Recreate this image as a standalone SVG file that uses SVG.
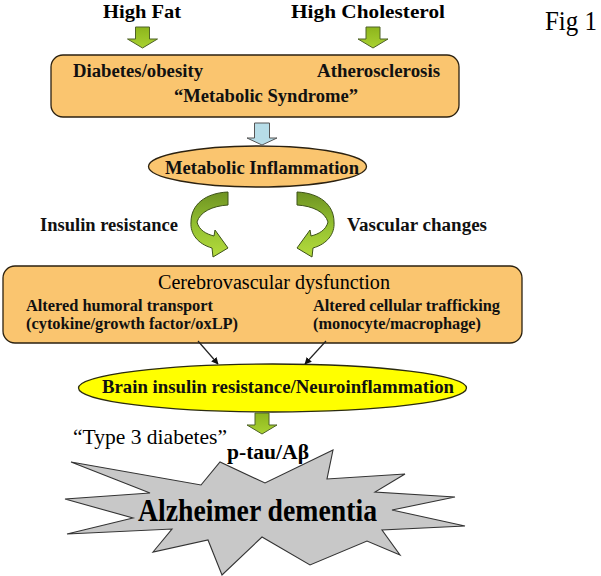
<svg xmlns="http://www.w3.org/2000/svg" width="601" height="576" viewBox="0 0 601 576">
<defs>
<style>
text{font-family:"Liberation Serif","Times New Roman",serif;fill:#000}
.b{font-weight:bold}
.m{font-weight:bold;fill:#111}
.box{fill:#FAC56F;stroke:#2b2110;stroke-width:1.3}
.garrow{fill:url(#gg);stroke:#4F6228;stroke-width:1}
.curve{fill:url(#gc);stroke:#3d5218;stroke-width:1}
.conn{stroke:#222;stroke-width:1.2;fill:none;marker-end:url(#ah)}
</style>
<linearGradient id="gg" x1="0" y1="0" x2="0" y2="1">
<stop offset="0" stop-color="#8DB51C"/><stop offset="1" stop-color="#A9D232"/>
</linearGradient>
<linearGradient id="gc" x1="0" y1="0" x2="0" y2="1">
<stop offset="0" stop-color="#6E9222"/><stop offset="0.5" stop-color="#93C030"/><stop offset="1" stop-color="#B4DB3C"/>
</linearGradient>
<marker id="ah" viewBox="0 0 10 10" refX="9" refY="5" markerWidth="7" markerHeight="7" orient="auto" markerUnits="userSpaceOnUse">
<path d="M0,0 L10,5 L0,10 Z" fill="#111"/>
</marker>
<path id="down" d="M-7,0 H7 V12 H15 L0,21 L-15,12 H-7 Z"/>
<path id="curveL" d="M228,192 L228,205 C212,206 200,212 197,222 C199,230 206,234 214,236 L215,230 L228,248 L213,257 L212,248 C198,244 190,234 191,222 C191,205 205,193 228,192 Z"/>
</defs>

<g id="fig-label"><text x="545" y="30" font-size="27" textLength="52" lengthAdjust="spacingAndGlyphs">Fig 1</text></g>

<g id="high-fat"><text class="b" x="103" y="18" font-size="19.5" textLength="78" lengthAdjust="spacingAndGlyphs">High Fat</text></g>
<g id="high-cholesterol"><text class="b" x="291" y="18" font-size="19.5" textLength="154" lengthAdjust="spacingAndGlyphs">High Cholesterol</text></g>

<g id="metabolic-syndrome">
<rect class="box" x="51" y="55" width="408" height="62" rx="12"/>
<text class="m" x="73" y="77" font-size="18.5" textLength="130" lengthAdjust="spacingAndGlyphs">Diabetes/obesity</text>
<text class="m" x="317" y="77" font-size="18.5" textLength="123" lengthAdjust="spacingAndGlyphs">Atherosclerosis</text>
<text class="m" x="174" y="102" font-size="18.5" textLength="184" lengthAdjust="spacingAndGlyphs">“Metabolic Syndrome”</text>
</g>

<g id="metabolic-inflammation">
<ellipse cx="257.5" cy="166.5" rx="109" ry="20.5" style="fill:#FAC56F;stroke:#2b2110;stroke-width:1.3"/>
<text class="m" x="165" y="174" font-size="19.5" textLength="194" lengthAdjust="spacingAndGlyphs">Metabolic Inflammation</text>
</g>

<g id="insulin-resistance-label"><text class="m" x="40" y="231" font-size="18.5" textLength="138" lengthAdjust="spacingAndGlyphs">Insulin resistance</text></g>
<g id="vascular-changes-label"><text class="m" x="347" y="231" font-size="18.5" textLength="140" lengthAdjust="spacingAndGlyphs">Vascular changes</text></g>

<g id="cerebrovascular">
<rect class="box" x="3" y="266" width="519" height="77" rx="12"/>
<text x="158" y="289" font-size="20" textLength="232" lengthAdjust="spacingAndGlyphs">Cerebrovascular dysfunction</text>
<text class="m" x="26" y="311" font-size="16" textLength="187" lengthAdjust="spacingAndGlyphs">Altered humoral transport</text>
<text class="m" x="26" y="329" font-size="16" textLength="212" lengthAdjust="spacingAndGlyphs">(cytokine/growth factor/oxLP)</text>
<text class="m" x="313" y="311" font-size="16" textLength="187" lengthAdjust="spacingAndGlyphs">Altered cellular trafficking</text>
<text class="m" x="313" y="329" font-size="16" textLength="168" lengthAdjust="spacingAndGlyphs">(monocyte/macrophage)</text>
</g>

<g id="brain-insulin-resistance">
<ellipse cx="272.5" cy="388" rx="194" ry="24" style="fill:#FFFF00;stroke:#2b2b10;stroke-width:1.3"/>
<text class="m" x="102" y="393" font-size="19.5" textLength="352" lengthAdjust="spacingAndGlyphs">Brain insulin resistance/Neuroinflammation</text>
</g>

<g id="type3-label"><text x="73" y="444" font-size="21" textLength="154" lengthAdjust="spacingAndGlyphs">“Type 3 diabetes”</text></g>

<g id="alzheimer">
<polygon points="71,462 201,485 220,462 265,483 333,450 327,479 405,474 375,492 455,497 392,510 465,526 382,530 400,555 367,541 310,565 262,537 222,575 208,540 153,552 172,529 67,534 133,518 65,499 150,493" style="fill:#C8C8C8;stroke:#333;stroke-width:1.1;stroke-linejoin:miter"/>
<text class="b" x="227" y="459" font-size="20.5" textLength="82" lengthAdjust="spacingAndGlyphs">p-tau/Aβ</text>
<text class="b" x="138" y="521" font-size="31" textLength="239" lengthAdjust="spacingAndGlyphs">Alzheimer dementia</text>
</g>

<g id="connectors">
<use href="#down" class="garrow" transform="translate(142.5,27)"/>
<use href="#down" class="garrow" transform="translate(373,27)"/>
<path d="M-7.5,0 H7.5 V15 H15 L0,22 L-15,15 H-7.5 Z" transform="translate(262,123)" style="fill:#B7DDE8;stroke:#555;stroke-width:1"/>
<use href="#curveL" class="curve"/>
<use href="#curveL" class="curve" transform="translate(525,0) scale(-1,1)"/>
<line class="conn" x1="198" y1="341" x2="218" y2="364"/>
<line class="conn" x1="326" y1="341" x2="305" y2="364"/>
<use href="#down" class="garrow" transform="translate(262,413)"/>
</g>
</svg>
